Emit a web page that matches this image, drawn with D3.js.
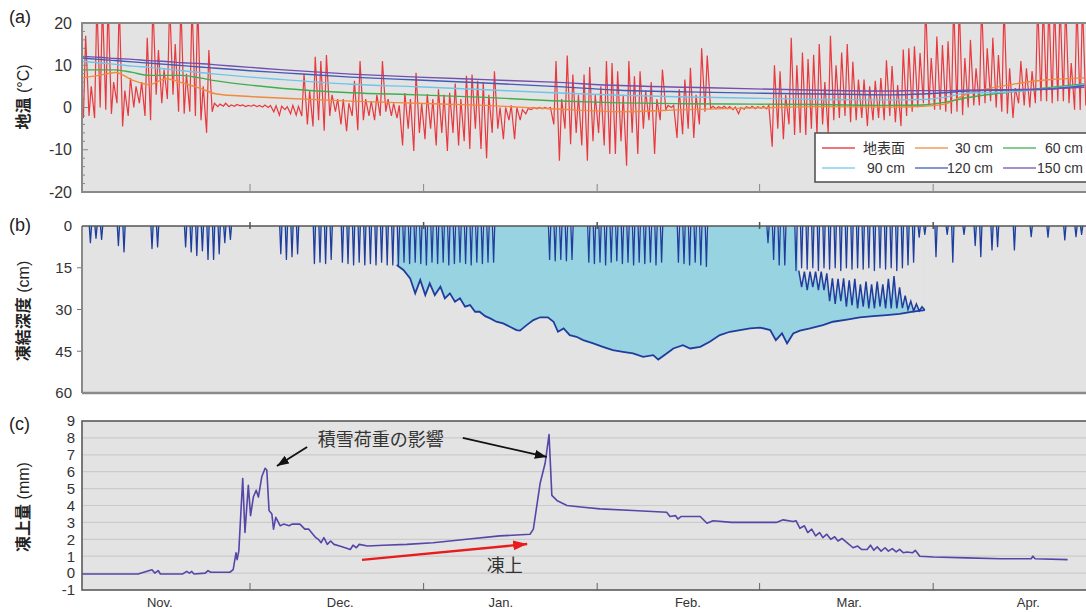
<!DOCTYPE html>
<html lang="ja">
<head>
<meta charset="utf-8">
<script src="https://cdn.jsdelivr.net/npm/d3@7"></script>
<style>
    body { margin: 0; background: #fff; }
    svg { display: block; font-family: "Liberation Sans", Arial, sans-serif; }
    .jp { font-family: "Noto Sans CJK JP", sans-serif; }
    .ylab text { fill: #333; }
    .mlab { font-size: 13px; fill: #333; }
</style>
</head>
<body>
<svg id="chart" width="1086" height="612"></svg>
<script>

    // ---- data (day 0 = Nov 1, leap year so Feb has 29 days)
    var monthTicks = [30, 61, 92, 121, 152];
    var monthLabels = ["Nov.", "Dec.", "Jan.", "Feb.", "Mar.", "Apr."];
    var monthLabelDays = [13.9, 46.1, 74.8, 108.2, 137, 169];

    // (a) surface temperature, daily max / min (values above 20 run off the top)
    var tMax = [17, 5, 25, 25, 25, 6, 25, 4, 7, 5,
        6, 16.5, 25, 13.6, 9, 25, 15, 25, 8, 25,
        25, 5, 13.6, 1, 0.8, 1, 0.6, 0.7, 0.6, 0.5,
        0.6, 0.5, 0.6, 0.5, 0.4, 0.3, 0.2, 0.5, 0.3, 8,
        4, 12, 11, 12.4, 3, 2, 2, 1, 6.3, 11,
        2, 1.5, 3, 11, 2, 1, 0.5, 3.4, 2, 8.2,
        1, 3.2, 2, 4.3, 3, 3.5, 5.7, 2, 7.5, 7.8,
        6.3, 6, 3, 8.6, 0, 0, 0.5, 0, -0.5, -0.3,
        0, 0, 0, 0, 11, 2, 12.3, 7.8, 3, 7.8,
        9.6, 3, 5, 11, 10.5, 8.6, 3, 11, 7.4, 8.6,
        4, 6, 2, 9, 0.5, 0.5, 4.3, 6.6, 9.4, 3,
        14, 12.3, 0.3, 0.2, 0.3, 0.2, 0.1, 0, 0.2, 0.3,
        0.2, 0.3, 0.5, 10, 8.6, 3, 16.5, 10, 13, 11.5,
        12.5, 15, 6, 17, 10, 13, 15, 10.8, 6.6, 6.6,
        5, 6.3, 7, 11.2, 9.8, 5.3, 13.7, 14, 14.5, 12.9,
        25, 11.7, 16.8, 14.8, 15.7, 25, 25, 11.7, 16, 9.3,
        25, 14, 16.5, 12.4, 25, 9.3, 4.6, 11, 9.3, 8.6,
        25, 25, 25, 25, 25, 25, 10.5, 25, 25, 10];
    var tMin = [-2.5, -2, -2.5, 0, -0.5, -1.5, 1, -4.5, -2, 0,
        1, -2, -3, 3, 1, 2, 3, -1, -1.5, -1,
        -2, -3, -6, -1, 0.2, 0.3, 0.2, 0.3, 0.4, 0.2,
        0.3, 0.2, 0.1, 0, -1, -1.8, -0.5, -1.5, -1.8, -2,
        -4, -4.5, -3, -5.5, -2, -1, -4, -5.6, -2, -5.4,
        -3, -2, -3, -2, -1, -2, -2.5, -9, -5, -10.3,
        -6, -7.5, -5, -9, -6, -10.3, -6, -9, -8, -9.8,
        -5, -9.8, -12, -6, -5, -7.5, -3, -7.5, -3, -1.5,
        -0.5, -0.3, -0.3, -0.3, -4, -12.6, -5, -8.7, -6, -9,
        -12.6, -8, -6, -9, -11, -11, -8, -13.8, -6, -11,
        -5, -3, -11, -3, -0.5, 0, -7.2, -6.3, -5, -7.2,
        -4, -1, -0.2, -0.3, -0.2, -0.3, -0.5, -1.5, -0.4, -0.2,
        -0.3, -0.2, -0.3, -9.3, -5, -7.5, -4, -6.5, -6, -6.5,
        -5, -6.5, -4, -6, -3, -2.5, -2, -3.5, -3, -2.5,
        -4.4, -3, -2.5, -3, -2, -3.5, -4.4, -2, -1, 0,
        1, 0.5, -0.5, -0.5, -1, -1.5, -1, -1.8, 0, 0.5,
        0.5, 1, 1.5, 0, -1, -1.5, -2.5, 1, 0.5, 0,
        1, 1.5, 1.5, 1, 1.5, 1.5, 1, -0.5, -0.6, 0.5];

    // (a) ground temperature at depth
    var deepDays = [0, 3, 6, 9, 12, 15, 18, 21, 24, 30, 36, 48, 60, 72, 84, 96, 108, 120, 132, 144, 150, 154, 158, 164, 172, 179];
    var t30 = [7.0, 7.6, 8.3, 6.5, 5.4, 6.8, 5.8, 4.6, 3.2, 2.6, 2.2, 1.5, 1.0, 0.5, -0.3, -1.0, -0.5, -0.1, 0.2, 0.1, 0.3, 0.8, 3.2, 5.0, 6.5, 7.0];
    var t60 = [8.9, 8.9, 8.9, 8.3, 7.6, 7.6, 7.6, 7.0, 6.3, 5.3, 4.5, 3.5, 3.0, 2.4, 1.6, 1.1, 0.9, 0.8, 0.7, 0.5, 0.6, 1.2, 2.3, 3.4, 4.6, 5.6];
    var t90 = [10.9, 10.6, 10.2, 9.8, 9.5, 9.1, 8.7, 8.3, 7.9, 7.2, 6.6, 5.5, 4.9, 4.2, 3.5, 2.9, 2.5, 2.2, 1.9, 1.8, 1.9, 2.4, 3.4, 3.6, 4.4, 5.4];
    var t120 = [11.7, 11.4, 11.1, 10.8, 10.5, 10.2, 9.9, 9.6, 9.3, 8.7, 8.2, 7.2, 6.5, 5.8, 5.0, 4.1, 3.7, 3.4, 3.2, 3.0, 3.2, 3.5, 3.9, 4.1, 4.3, 5.2];
    var t150 = [12.1, 11.9, 11.6, 11.4, 11.1, 10.9, 10.6, 10.4, 10.1, 9.5, 8.9, 7.9, 7.2, 6.6, 6.0, 5.2, 4.8, 4.4, 4.1, 3.9, 4.0, 4.0, 4.1, 4.2, 4.4, 4.8];
    var seriesNames = ["地表面", "30 cm", "60 cm", "90 cm", "120 cm", "150 cm"];
    var seriesColors = ["#e8262b", "#f08a3c", "#3fae4f", "#6cc6ea", "#3f5cb8", "#7250ae"];

    // (b) frost depth: lower frost front, March thaw front, daily spikes from surface
    var frostDays = [56.2, 57.4, 58.6, 59.5, 60.4, 61.3, 62.1, 63, 64, 64.8, 65.7, 66.6, 67.5, 68.4, 69.3,
        70.2, 71, 72, 72.9, 74, 75.2, 76.4, 77.6, 78.2, 79.4, 80.6, 81.8, 83.2, 84.2, 85,
        86, 87.1, 88.3, 89.5, 91.3, 93, 94.8, 96.6, 98.4, 100.2, 102, 102.9, 104.4, 105.6, 107.3,
        108.6, 110.4, 112.1, 113.9, 115.7, 117.5, 119.3, 121.1, 122.9, 123.9, 125, 125.9, 127, 128.2, 130,
        132.3, 134.1, 136.6, 138.9, 141.3, 143.7, 146, 148.4, 150.5];
    var frostDepth = [14, 15.8, 18.8, 24.2, 19.4, 24.8, 20.6, 24.8, 21.8, 26, 24.2, 27.2, 26, 29, 28.4,
        30.8, 30.8, 32.4, 33.2, 34.4, 35, 36.2, 37.4, 37.6, 35.6, 33.8, 32.8, 32.8, 34.4, 38,
        36.8, 39.2, 39.8, 41, 42.2, 43.4, 44.6, 45.2, 45.8, 47, 46.4, 48, 45.8, 44, 42.8,
        44, 43.4, 41.6, 39.2, 38, 37.4, 36.8, 36.5, 37.4, 41, 38.6, 42.2, 38.6, 37.6, 36.8,
        35.6, 34.4, 33.6, 32.8, 32.4, 32, 31.6, 30.8, 30.2];
    var thawDays = [128, 128.5, 129, 129.5, 130, 130.5, 131, 131.5, 132, 132.5, 133, 133.5, 134, 134.5, 135,
        135.5, 136, 136.5, 137, 137.5, 138, 138.5, 139, 139.5, 140, 140.5, 141, 141.5, 142, 142.5,
        143, 143.5, 144, 144.5, 145, 145.5, 146, 146.5, 147, 147.5, 148, 148.5, 149, 149.5, 150, 150.5];
    var thawDepth = [16, 22, 16.4, 23, 16.4, 22, 16.4, 23, 16.4, 23, 17, 27, 18.8, 28, 19,
        27, 18.8, 29, 19.5, 28.5, 19, 29.6, 21, 29, 20, 29.6, 21, 29.6, 20, 29,
        21, 29.6, 19, 29.6, 18, 29.6, 22, 29.5, 25, 30, 27, 30.5, 28, 30.5, 29, 30.2];
    var spikeDepth = [0, 6, 4.4, 4.8, 0, 0, 7, 9.3, 0, 0,
        0, 0, 8.1, 7.5, 0, 0, 0, 0, 7.5, 9.3,
        10.6, 8.9, 12, 12, 10, 6, 4.8, 0, 0, 0,
        0, 0, 0, 0, 0, 10, 12, 11, 10, 0,
        0, 13.5, 13, 13.5, 12, 0, 13, 13.5, 14, 13,
        14, 13.5, 14, 13, 14, 14, 14, 13, 13.5, 13,
        13.5, 14, 13, 13.5, 13, 14, 13.5, 13, 13.5, 14,
        13, 13.5, 13, 13, 0, 0, 0, 0, 0, 0,
        0, 0, 0, 12, 12.5, 12, 12.5, 12, 0, 0,
        13, 13.5, 13, 14, 13, 12.5, 13.5, 13, 14, 13,
        13.5, 13, 14, 13, 0, 0, 13, 13.5, 14, 13,
        14, 14.5, 0, 0, 0, 0, 0, 0, 0, 0,
        0, 0, 6, 12, 14, 14, 0, 16, 15, 15.5,
        15, 16, 15, 15.5, 15, 16, 15, 15.5, 15, 15.5,
        15, 16, 15, 15.5, 15, 16, 15, 14, 13, 4,
        3, 0, 11, 0, 3, 13, 0, 3, 0, 7,
        11, 0, 8.6, 7.4, 0, 0, 8.6, 0, 0, 3.8,
        0, 0, 4, 0, 0, 5, 0, 3.8, 3, 0];

    // (c) frost heave (mm)
    var heaveDays = [0, 5, 10, 12.5, 13, 13.6, 14, 18, 18.7, 19.2, 19.6, 20, 22, 22.5, 23, 26.4, 27, 27.5, 27.7, 28,
        28.7, 29.1, 29.7, 30.1, 30.6, 31.1, 31.5, 32.1, 32.7, 33, 33.4, 33.9, 34.2, 34.6, 35.4, 36, 37, 37.5, 38.9, 39.8,
        40.5, 41.6, 42.2, 42.7, 43.2, 43.8, 44.4, 45, 46, 47, 47.9, 48.4, 49, 49.5, 51, 53.8, 58, 62.7, 68.7, 74.6,
        80, 80.6, 81.8, 82.7, 83.4, 83.9, 84.8, 86.6, 89.5, 92.5, 98.4, 104.4, 105, 106, 106.4, 107, 110.4, 111.6, 112.7, 116,
        124, 125.2, 127, 127.5, 128.2, 129, 129.6, 130.3, 131, 131.7, 132.3, 133, 133.7, 134.4, 135, 135.7, 136.6, 137.7, 138.5, 139.2,
        140.2, 140.8, 141.4, 142, 142.7, 143.4, 144, 144.7, 145.4, 146, 146.7, 147.3, 148.3, 148.8, 149.6, 152, 158, 164, 169.5, 169.8,
        170.2, 176];
    var heaveVals = [-0.05, -0.05, -0.05, 0.2, 0, 0.15, -0.05, -0.05, 0.1, 0, 0.1, -0.05, 0, 0.15, 0.05, 0.05, 0.2, 1.2, 0.8, 1.3,
        5.6, 2.4, 5.2, 3.4, 4.5, 4.9, 4.5, 5.7, 6.2, 6.1, 3.7, 3.5, 2.6, 3.3, 2.8, 2.9, 2.8, 2.9, 2.9, 2.6,
        2.6, 2.15, 2.0, 1.8, 2.1, 1.7, 1.9, 1.7, 1.6, 1.5, 1.4, 1.65, 1.5, 1.7, 1.6, 1.65, 1.7, 1.8, 2.0, 2.2,
        2.3, 2.6, 5.3, 6.5, 8.2, 4.6, 4.3, 4.0, 3.9, 3.8, 3.7, 3.6, 3.35, 3.4, 3.2, 3.35, 3.35, 2.95, 3.1, 3.0,
        3.0, 3.15, 3.05, 3.1, 2.65, 2.8, 2.4, 2.6, 2.2, 2.4, 2.1, 2.3, 2.0, 2.15, 1.9, 2.05, 1.8, 1.5, 1.6, 1.4,
        1.4, 1.65, 1.35, 1.55, 1.3, 1.5, 1.3, 1.45, 1.25, 1.4, 1.2, 1.25, 1.2, 1.35, 1.0, 0.95, 0.9, 0.85, 0.85, 1.0,
        0.85, 0.8];

    // ---- scales
    var svg = d3.select("#chart");
    var x = d3.scaleLinear().domain([0, 180]).range([82, 1090]);
    var yA = d3.scaleLinear().domain([-20, 20]).range([192, 23]);
    var yB = d3.scaleLinear().domain([0, 60]).range([226, 393]);
    var yC = d3.scaleLinear().domain([-1, 9]).range([590, 421]);
    var bg = "#e3e3e3";
    var iceFill = "#98d3e1", iceLine = "#1f3d9c";
    var rightEdge = 1100;

    function box(y) {
        var r = y.range();
        return {top: Math.min(r[0], r[1]), bottom: Math.max(r[0], r[1])};
    }

    function addPanel(y, name) {
        var b = box(y);
        svg.append("clipPath").attr("id", "clip-" + name)
            .append("rect")
            .attr("x", x(0)).attr("y", b.top)
            .attr("width", rightEdge - x(0)).attr("height", b.bottom - b.top);
        svg.append("rect")
            .attr("x", x(0)).attr("y", b.top)
            .attr("width", rightEdge - x(0)).attr("height", b.bottom - b.top)
            .attr("fill", bg);
        return svg.append("g").attr("clip-path", "url(#clip-" + name + ")");
    }

    function yAxis(y, ticks, size, pad) {
        svg.append("g")
            .attr("class", "ylab")
            .attr("transform", "translate(" + x(0) + ",0)")
            .call(d3.axisLeft(y).tickValues(ticks).tickSize(0).tickPadding(pad)
                .tickFormat(function (d) { return String(d); }))
            .call(function (g) { g.select(".domain").remove(); })
            .selectAll("text").style("font-size", size + "px")
            .style("font-family", "'Liberation Sans', Arial, sans-serif");
    }

    function yTitle(jp, unit, cy) {
        var t = svg.append("text")
            .attr("transform", "translate(29," + cy + ") rotate(-90)")
            .attr("text-anchor", "middle")
            .style("font-size", "16px").style("fill", "#222");
        t.append("tspan").attr("class", "jp").style("font-weight", "bold").text(jp);
        t.append("tspan").text(" " + unit);
    }

    function panelLabel(txt, y) {
        svg.append("text").attr("x", 9).attr("y", y)
            .style("font-size", "18px").style("fill", "#222").text(txt);
    }

    var line = function (y) {
        return d3.line().x(function (d) { return x(d[0]); }).y(function (d) { return y(d[1]); });
    };

    // ================= (a) ground temperature
    var gA = addPanel(yA, "a");

    var surf = [];
    tMax.forEach(function (v, i) {
        surf.push([i + 0.25, tMin[i]]);
        surf.push([i + 0.65, v]);
    });
    gA.append("path")
        .datum(surf)
        .attr("fill", "none")
        .attr("stroke", seriesColors[0])
        .attr("stroke-width", 1.2)
        .attr("stroke-opacity", 0.9)
        .attr("d", line(yA));

    [t30, t60, t90, t120, t150].forEach(function (vals, k) {
        gA.append("path")
            .datum(deepDays.map(function (d, i) { return [d, vals[i]]; }))
            .attr("fill", "none")
            .attr("stroke", seriesColors[k + 1])
            .attr("stroke-width", 1.4)
            .attr("d", line(yA).curve(d3.curveMonotoneX));
    });

    // minor ticks every 2 degrees, inward
    svg.append("g").selectAll("line")
        .data(d3.range(-18, 20, 2))
        .join("line")
        .attr("x1", x(0)).attr("x2", function (d) { return x(0) + (d % 10 === 0 ? 6 : 3); })
        .attr("y1", function (d) { return yA(d); }).attr("y2", function (d) { return yA(d); })
        .attr("stroke", "#888");

    svg.append("g").selectAll("line")
        .data(monthTicks)
        .join("line")
        .attr("x1", function (d) { return x(d); }).attr("x2", function (d) { return x(d); })
        .attr("y1", yA(-20) - 8).attr("y2", yA(-20))
        .attr("stroke", "#888");

    svg.append("rect")
        .attr("x", x(0)).attr("y", yA(20))
        .attr("width", rightEdge - x(0)).attr("height", yA(-20) - yA(20))
        .attr("fill", "none").attr("stroke", "#8a8a8a").attr("stroke-width", 2);

    // legend
    var leg = svg.append("g");
    leg.append("rect").attr("x", 815).attr("y", 133).attr("width", 290).attr("height", 49)
        .attr("fill", "#fff").attr("stroke", "#555").attr("stroke-width", 1.6);
    var legCols = [[822, 905], [915, 993], [1003, 1083]];
    seriesNames.forEach(function (name, i) {
        var col = legCols[i % 3], ly = i < 3 ? 148 : 168;
        leg.append("line").attr("x1", col[0]).attr("x2", col[0] + 33)
            .attr("y1", ly).attr("y2", ly)
            .attr("stroke", seriesColors[i]).attr("stroke-width", 1.6).attr("stroke-opacity", 0.85);
        leg.append("text").attr("x", col[1]).attr("y", ly + 5)
            .attr("text-anchor", "end")
            .attr("class", i === 0 ? "jp" : null)
            .style("font-size", "14px").style("fill", "#333")
            .text(name);
    });

    yAxis(yA, [-20, -10, 0, 10, 20], 16, 10);
    yTitle("地温", "(°C)", 97);
    panelLabel("(a)", 23);

    // ================= (b) frost depth
    var gB = addPanel(yB, "b");

    var frostPts = frostDays.map(function (d, i) { return [d, frostDepth[i]]; });
    var thawPts = thawDays.map(function (d, i) { return [d, thawDepth[i]]; });
    var area0 = d3.area()
        .x(function (d) { return x(d[0]); })
        .y0(yB(0))
        .y1(function (d) { return yB(d[1]); });

    gB.append("path").datum(frostPts).attr("fill", iceFill).attr("d", area0);
    gB.append("path").datum(thawPts).attr("fill", bg).attr("stroke", bg).attr("stroke-width", 1).attr("d", area0);

    gB.selectAll(".spike")
        .data(spikeDepth.map(function (v, i) { return [i, v]; }).filter(function (d) { return d[1] > 0; }))
        .join("path")
        .attr("class", "spike")
        .attr("fill", function (d) {
            var m = d[0] + 0.5;
            return (m >= frostDays[0] && m < thawDays[0]) ? bg : iceFill;
        })
        .attr("stroke", iceLine)
        .attr("stroke-width", 1.3)
        .attr("stroke-linejoin", "round")
        .attr("d", function (d) {
            return "M" + x(d[0] + 0.3) + "," + yB(0) +
                "L" + x(d[0] + 0.5) + "," + yB(d[1]) +
                "L" + x(d[0] + 0.7) + "," + yB(0);
        });

    gB.append("path").datum(frostPts)
        .attr("fill", "none").attr("stroke", iceLine).attr("stroke-width", 1.8)
        .attr("d", line(yB));
    gB.append("path").datum(thawPts)
        .attr("fill", "none").attr("stroke", iceLine).attr("stroke-width", 1.5)
        .attr("d", line(yB));

    svg.append("g").selectAll("line")
        .data([15, 30, 45])
        .join("line")
        .attr("x1", x(0) - 5).attr("x2", x(0))
        .attr("y1", function (d) { return yB(d); }).attr("y2", function (d) { return yB(d); })
        .attr("stroke", "#777");

    svg.append("line").attr("x1", x(0)).attr("x2", x(0)).attr("y1", yB(0)).attr("y2", yB(60))
        .attr("stroke", "#8a8a8a").attr("stroke-width", 2);
    svg.append("line").attr("x1", x(0)).attr("x2", rightEdge).attr("y1", yB(60)).attr("y2", yB(60))
        .attr("stroke", "#8a8a8a").attr("stroke-width", 2.5);
    svg.append("line").attr("x1", x(0)).attr("x2", rightEdge).attr("y1", yB(0)).attr("y2", yB(0))
        .attr("stroke", "#555").attr("stroke-width", 1.4);
    svg.append("g").selectAll("line")
        .data(monthTicks)
        .join("line")
        .attr("x1", function (d) { return x(d); }).attr("x2", function (d) { return x(d); })
        .attr("y1", yB(0) - 4).attr("y2", yB(0) + 3)
        .attr("stroke", "#555").attr("stroke-width", 1.5);

    yAxis(yB, [0, 15, 30, 45, 60], 15, 10);
    yTitle("凍結深度", "(cm)", 311);
    panelLabel("(b)", 231);

    // ================= (c) frost heave
    var gC = addPanel(yC, "c");

    gC.selectAll(".grid")
        .data(d3.range(0, 9))
        .join("line")
        .attr("class", "grid")
        .attr("x1", x(0)).attr("x2", rightEdge)
        .attr("y1", function (d) { return yC(d); }).attr("y2", function (d) { return yC(d); })
        .attr("stroke", "#cbcbcb").attr("stroke-width", 1.2);

    gC.append("path")
        .datum(heaveDays.map(function (d, i) { return [d, heaveVals[i]]; }))
        .attr("fill", "none")
        .attr("stroke", "#5546a8")
        .attr("stroke-width", 1.6)
        .attr("stroke-linejoin", "round")
        .attr("d", line(yC));

    svg.append("g").selectAll("line")
        .data(monthTicks)
        .join("line")
        .attr("x1", function (d) { return x(d); }).attr("x2", function (d) { return x(d); })
        .attr("y1", yC(-1) - 7).attr("y2", yC(-1))
        .attr("stroke", "#666");

    svg.append("rect")
        .attr("x", x(0)).attr("y", yC(9))
        .attr("width", rightEdge - x(0)).attr("height", yC(-1) - yC(9))
        .attr("fill", "none").attr("stroke", "#5a5a5a").attr("stroke-width", 1.6);

    // annotations
    var defs = svg.append("defs");
    [["headK", "#111", 12, 9], ["headR", "#e81c1c", 14, 10]].forEach(function (m) {
        defs.append("marker").attr("id", m[0])
            .attr("markerUnits", "userSpaceOnUse")
            .attr("markerWidth", m[2]).attr("markerHeight", m[3])
            .attr("refX", m[2]).attr("refY", m[3] / 2)
            .attr("orient", "auto")
            .append("path")
            .attr("d", "M0,0L" + m[2] + "," + (m[3] / 2) + "L0," + m[3] + "Z")
            .attr("fill", m[1]);
    });
    var snowArrows = [[40.2, 7.46, 34.8, 6.34], [68.0, 8.0, 83.0, 6.87]];
    snowArrows.forEach(function (a) {
        svg.append("line")
            .attr("x1", x(a[0])).attr("y1", yC(a[1]))
            .attr("x2", x(a[2])).attr("y2", yC(a[3]))
            .attr("stroke", "#111").attr("stroke-width", 1.8)
            .attr("marker-end", "url(#headK)");
    });
    svg.append("line")
        .attr("x1", x(50)).attr("y1", yC(0.78))
        .attr("x2", x(79.5)).attr("y2", yC(1.72))
        .attr("stroke", "#e81c1c").attr("stroke-width", 2.4)
        .attr("marker-end", "url(#headR)");
    svg.append("text").attr("class", "jp")
        .attr("x", x(42.1)).attr("y", yC(7.55))
        .style("font-size", "18px").style("fill", "#333")
        .text("積雪荷重の影響");
    svg.append("text").attr("class", "jp")
        .attr("x", x(75.5)).attr("y", yC(0.08))
        .attr("text-anchor", "middle")
        .style("font-size", "18px").style("fill", "#333")
        .text("凍上");

    yAxis(yC, d3.range(-1, 10), 15, 7);
    yTitle("凍上量", "(mm)", 507);
    panelLabel("(c)", 430);

    // month labels
    svg.append("g").selectAll("text")
        .data(monthLabels)
        .join("text")
        .attr("class", "mlab")
        .attr("x", function (d, i) { return x(monthLabelDays[i]); })
        .attr("y", 607)
        .attr("text-anchor", "middle")
        .text(function (d) { return d; });

</script>
</body>
</html>
